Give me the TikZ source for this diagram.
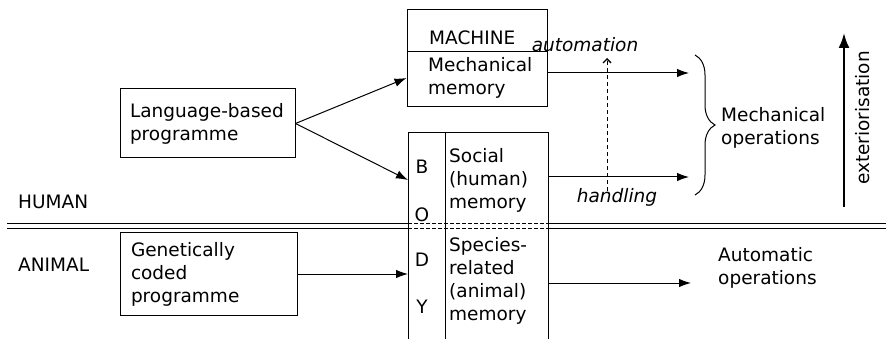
\documentclass[tikz,border=0pt]{standalone}
\usepackage{fontspec}
\setmainfont{DejaVu Sans}
\usetikzlibrary{arrows.meta,decorations.pathreplacing}
\begin{document}
\begin{tikzpicture}[x=1pt,y=-1pt,
  every node/.style={font=\fontsize{18.5}{23}\selectfont, inner sep=0pt},
  box/.style={draw, line width=1pt},
  arr/.style={line width=1pt, -{Latex[length=12pt,width=8.5pt]}},
  txt/.style={align=left, anchor=north west},
  sep/.style={line width=1pt},
  sepdash/.style={line width=1pt, dash pattern=on 4pt off 2pt}]
\useasboundingbox (0,0) rectangle (886,339);
% boxes
\node[box, minimum width=175pt, minimum height=69pt, text width=155pt, align=left] (lang) at (207.5,123.5) {Language-based\\programme};
\node[box, minimum width=177pt, minimum height=82pt, text width=155pt, align=left] (gen) at (208.5,274) {Genetically\\coded\\programme};
\node[box, minimum width=140pt, minimum height=97pt] (machine) at (477,58.5) {};
\draw[line width=1pt] ([yshift=6.5pt]machine.west) -- ([yshift=6.5pt]machine.east);
\node[box, minimum width=140pt, minimum height=230pt, anchor=north west] (body) at (408,132) {};
\coordinate (bdiv) at (445,132);
\draw[line width=1pt] (bdiv) -- (bdiv |- body.south);
% separator double line
\coordinate (hl1) at (7,224);
\coordinate (hr1) at (886,224);
\coordinate (hl2) at (7,229);
\coordinate (hr2) at (886,229);
\draw[sep] (hl1) -- (hl1 -| body.west);
\draw[sepdash] (hl1 -| body.west) -- (hl1 -| body.east);
\draw[sep] (hl1 -| body.east) -- (hr1);
\draw[sep] (hl2) -- (hl2 -| body.west);
\draw[sepdash] (hl2 -| body.west) -- (hl2 -| body.east);
\draw[sep] (hl2 -| body.east) -- (hr2);
% texts
\node[anchor=base west] (machlab) at (429,45) {MACHINE};
\node[txt] (mechmem) at (428,57) {Mechanical\\memory};
\node[txt] (social) at (449,148) {Social\\(human)\\memory};
\node[txt] (species) at (449,237) {Species-\\related\\(animal)\\memory};
\node (lB) at (422,167) {B};
\node (lO) at (422,215) {O};
\node (lD) at (422,260) {D};
\node (lY) at (422,307) {Y};
\node (autom) at (585,45) {\itshape automation};
\node (handl) at (617,197) {\itshape handling};
\node[align=left, anchor=west] (mechop) at (721,128) {Mechanical\\operations};
\node[align=left, anchor=west] (autop) at (718,268) {Automatic\\operations};
\node[anchor=west] (human) at (18,201.5) {HUMAN};
\node[anchor=west] (animal) at (18,265) {ANIMAL};
\node[rotate=90] (exter) at (863,118) {exteriorisation};
% connectors
\draw[arr] (lang.east) -- ([yshift=-19.5pt]machine.west);
\draw[arr] (lang.east) -- ([yshift=-48pt]body.north west);
\draw[arr] (gen.east) -- (gen.east -| body.west);
\coordinate (mo1) at (689,73);
\coordinate (mo2) at (689,177);
\coordinate (mo3) at (691,283);
\draw[arr] (machine.east |- mo1) -- (mo1);
\draw[arr] (body.east |- mo2) -- (mo2);
\draw[arr] (body.east |- mo3) -- (mo3);
\coordinate (dA) at (607,191);
\coordinate (dB) at (607,58);
\draw[line width=0.9pt, dash pattern=on 4pt off 3pt, -{Straight Barb[length=4pt,width=8pt,line width=1.3pt]}] (dA) -- (dB);
\draw[line width=1pt, decorate, decoration={brace, amplitude=20pt}] (695,55) -- (695,195);
\coordinate (eA) at (844,207);
\coordinate (eB) at (844,33);
\draw[line width=2.2pt, -{Latex[length=15pt,width=11pt]}] (eA) -- (eB);
\end{tikzpicture}
\end{document}
